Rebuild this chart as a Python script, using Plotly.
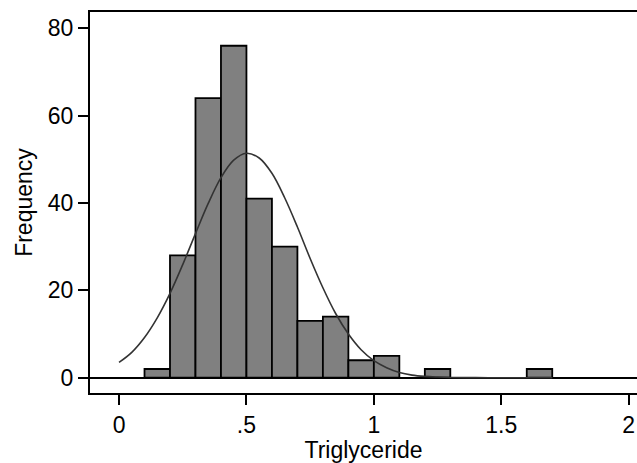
import plotly.graph_objects as go

# Histogram bins (left edges, width 0.1) and counts
bin_left = [0.1, 0.2, 0.3, 0.4, 0.5, 0.6, 0.7, 0.8, 0.9, 1.0, 1.2, 1.6]
counts = [2, 28, 64, 76, 41, 30, 13, 14, 4, 5, 2, 2]
bin_width = 0.1

# Normal density overlay (frequency scale)
curve_x = [0, 0.05, 0.1, 0.15, 0.2, 0.25, 0.3, 0.35, 0.4, 0.45, 0.5, 0.55, 0.6,
           0.65, 0.7, 0.75, 0.8, 0.85, 0.9, 0.95, 1.0, 1.05, 1.1, 1.15, 1.2,
           1.25, 1.3, 1.4, 1.5, 1.6, 1.7]
curve_y = [3.5, 5.8, 9.2, 13.7, 19.3, 25.9, 33.0, 39.9, 45.8, 49.8, 51.4, 50.3,
           46.8, 41.2, 34.5, 27.3, 20.6, 14.7, 10.0, 6.4, 3.9, 2.3, 1.2, 0.6,
           0.3, 0.15, 0.06, 0.01, 0.0, 0.0, 0.0]

x_ticks = [0, 0.5, 1, 1.5, 2]
x_tick_labels = ["0", ".5", "1", "1.5", "2"]
y_ticks = [0, 20, 40, 60, 80]

FONT = "Liberation Sans, Arial, sans-serif"

fig = go.Figure()
fig.add_trace(go.Bar(
    x=[b + bin_width / 2 for b in bin_left],
    y=counts,
    width=bin_width,
    marker=dict(color="#808080", line=dict(color="black", width=1.8)),
    hoverinfo="x+y",
))
fig.add_trace(go.Scatter(
    x=curve_x, y=curve_y, mode="lines",
    line=dict(color="#333333", width=1.6, shape="spline"),
))

fig.update_layout(
    width=637, height=463,
    margin=dict(l=90, r=0, t=12, b=70),
    paper_bgcolor="white", plot_bgcolor="white",
    showlegend=False,
    font=dict(family=FONT, size=23, color="black"),
    xaxis=dict(
        range=[-0.1139, 2.0326],
        tickvals=x_ticks, ticktext=x_tick_labels,
        ticks="outside", ticklen=10, tickwidth=2, tickcolor="black",
        showline=True, linecolor="black", linewidth=2, mirror=True,
        showgrid=False, zeroline=False,
        title=dict(text="Triglyceride", font=dict(size=23), standoff=5),
    ),
    yaxis=dict(
        range=[-3.5, 83.73],
        tickvals=y_ticks,
        ticks="outside", ticklen=10, tickwidth=2, tickcolor="black",
        showline=True, linecolor="black", linewidth=2,
        showgrid=False,
        zeroline=True, zerolinecolor="black", zerolinewidth=2,
        title=dict(text="Frequency", font=dict(size=23), standoff=9),
    ),
)

fig.write_html(
    "out.html",
    config={"displayModeBar": False},
    post_script="document.body.style.margin='0';document.body.style.padding='0';"
                "document.body.style.overflow='hidden';",
)
